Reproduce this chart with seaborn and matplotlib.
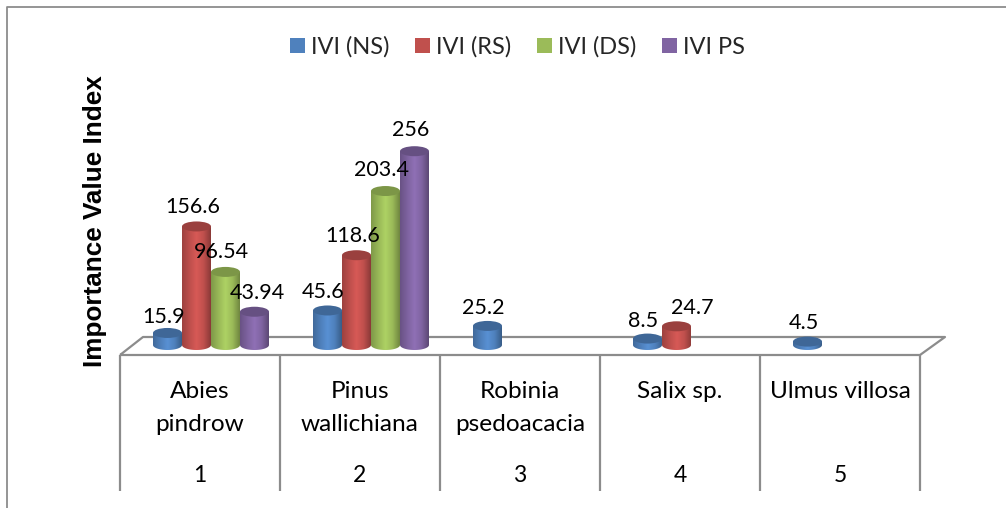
import numpy as np
import pandas as pd
import matplotlib
matplotlib.use("Agg")
import matplotlib.pyplot as plt
from matplotlib.lines import Line2D
from matplotlib.patches import Ellipse, Polygon
from matplotlib.colors import LinearSegmentedColormap, to_rgb
import seaborn as sns

species = ["Abies\npindrow", "Pinus\nwallichiana", "Robinia\npsedoacacia", "Salix sp.", "Ulmus villosa"]
ranks = ["1", "2", "3", "4", "5"]
series_names = ["IVI (NS)", "IVI (RS)", "IVI (DS)", "IVI PS"]
ivi_ns = [15.9, 45.6, 25.2, 8.5, 4.5]
ivi_rs = [156.6, 118.6, np.nan, 24.7, np.nan]
ivi_ds = [96.54, 203.4, np.nan, np.nan, np.nan]
ivi_ps = [43.94, 256, np.nan, np.nan, np.nan]
colors = ["#4F81BD", "#C0504D", "#9BBB59", "#8064A2"]

W, H = 1006, 508
GREY = "#8c8c8c"
BASE_PX = 345
PX_PER_UNIT = 0.757
YMAX = 300
YMIN = -20

sns.set_theme(style="white")
plt.rcParams["font.family"] = ["Lato", "DejaVu Sans"]

df = pd.DataFrame({
    "species": species * 4,
    "series": [s for s in series_names for _ in species],
    "ivi": ivi_ns + ivi_rs + ivi_ds + ivi_ps,
})

fig = plt.figure(figsize=(W / 100, H / 100), dpi=100)
ax_bottom_px = BASE_PX - YMIN * PX_PER_UNIT
ax_h = (YMAX - YMIN) * PX_PER_UNIT
ax = fig.add_axes([131 / W, (H - ax_bottom_px) / H, 800 / W, ax_h / H])
sns.barplot(data=df, x="species", y="ivi", hue="series", order=species, hue_order=series_names,
            palette=colors, width=0.725, gap=0, saturation=1, ax=ax, legend=True)
ax.set_xlim(-0.5, 4.5)
ax.set_ylim(YMIN, YMAX)
ax.axis("off")
xlim, ylim = ax.get_xlim(), ax.get_ylim()

def px(x, y):
    return x / W, (H - y) / H

def fline(xs, ys, lw=1.6, color=GREY):
    fig.add_artist(Line2D([x / W for x in xs], [(H - y) / H for y in ys],
                          color=color, lw=lw, solid_capstyle="butt", zorder=0))

# outer frame
fline([7, 7, W], [H, 6.5, 6.5], lw=1.3)
# floor
fline([120, 143, 945, 920, 120], [355, 337, 337, 355, 355])
# table verticals
for x in [120, 280, 440, 600, 760, 920]:
    fline([x, x], [355, 491])

# category table text
for i, (name, rank) in enumerate(zip(species, ranks)):
    cx = 200 + 160 * i
    fig.text(*px(cx, 392 if "\n" not in name else 408), name, ha="center", va="center",
             fontsize=17.6, color="black", linespacing=1.65)
    fig.text(*px(cx, 476), rank, ha="center", va="center", fontsize=16.5, color="black")

# y axis title
fig.text(*px(95, 221), "Importance Value Index", rotation=90, ha="center", va="center",
         family="Liberation Sans", fontweight="bold", fontsize=18.8, color="black")

# cylinders, drawn over the seaborn bars from their own geometry
ELL_H = 10 / PX_PER_UNIT
label_dx = {43.94: 7, 24.7: 20}
label_dy = {256: 21, 203.4: 21, 156.6: 19, 118.6: 19, 96.54: 20, 43.94: 19, 15.9: 16, 4.5: 19}

def shade(c):
    r = np.array(to_rgb(c))
    return LinearSegmentedColormap.from_list(
        "c", [r * 0.82, r * 0.98, np.minimum(r * 1.12, 1), r * 1.0, r * 0.72])

for container, color in zip(ax.containers, colors):
    for rect in container:
        h = rect.get_height()
        if not np.isfinite(h) or h <= 0:
            rect.set_visible(False)
            continue
        x0, w = rect.get_x(), rect.get_width()
        xc = x0 + w / 2
        rect.set_visible(False)
        t = np.linspace(np.pi, 2 * np.pi, 40)
        xs = xc + w / 2 * np.cos(t)
        ys = ELL_H / 2 * np.sin(t)
        verts = np.r_[[[x0, h]], np.c_[xs, ys], [[x0 + w, h]]]
        clip = Polygon(verts, closed=True, transform=ax.transData, fc="none", ec="none")
        ax.add_patch(clip)
        grad = np.linspace(0, 1, 64)[None, :]
        im = ax.imshow(grad, extent=[x0, x0 + w, -ELL_H, h], aspect="auto", cmap=shade(color),
                       vmin=0, vmax=1, zorder=3)
        im.set_clip_path(clip)
        ax.add_patch(Ellipse((xc, h), w, ELL_H, fc=tuple(np.array(to_rgb(color)) * 0.8),
                             ec="none", zorder=3.1, clip_on=False))
        ax.annotate(f"{h:g}", (xc, h),
                    xytext=((-4 + label_dx.get(h, 0)) * 0.72, label_dy.get(h, 18) * 0.72),
                    textcoords="offset points", ha="center", va="center",
                    fontsize=15.5, color="black", zorder=5)
ax.set_xlim(xlim)
ax.set_ylim(ylim)

# legend
handles = [plt.Rectangle((0, 0), 1, 1, fc=c, ec="none") for c in colors]
old = ax.get_legend()
if old is not None:
    old.remove()
fig.legend(handles, series_names, loc="center", bbox_to_anchor=px(517.5, 47), ncol=4, frameon=False,
           fontsize=17, handlelength=0.64, handleheight=0.64, handletextpad=0.26,
           columnspacing=1.08, borderpad=0)

fig.savefig("out.png", dpi=100)
